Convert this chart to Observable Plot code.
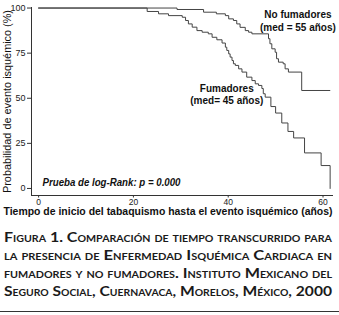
<!DOCTYPE html>
<html><head><meta charset="utf-8">
<script src="https://cdn.jsdelivr.net/npm/d3@7"></script>
<script src="https://cdn.jsdelivr.net/npm/@observablehq/plot@0.6"></script>
<style>
html,body{margin:0;padding:0;background:#fff;}
#chart svg{display:block;}
</style></head><body><div id="chart"></div>
<script>
// Kaplan-Meier steps (time in years, probability in %)
const smokerTime = [0, 22.9, 25.3, 27.4, 30.3, 31.0, 31.6, 32.4, 33.4, 34.5, 35.8, 36.6, 37.6, 38.7, 39.4, 39.7, 40.1, 40.4, 40.8, 41.1, 41.5, 42.2, 42.9, 43.9, 45.0, 45.7, 46.4, 47.1, 47.4, 47.8, 49.0, 50.0, 51.3, 52.6, 53.8, 56.1, 59.6, 61.5];
const smokerPct  = [100, 98.1, 96.8, 95.8, 94.9, 93.1, 91.2, 89.4, 87.5, 86.6, 85.7, 83.8, 82.4, 80.6, 78.3, 76.5, 74.6, 72.8, 70.9, 69.1, 68.2, 66.3, 64.5, 61.7, 59.8, 58.0, 57.1, 55.4, 52.5, 50.6, 45.4, 41.8, 36.3, 31.6, 28.0, 19.7, 12.7, 0];
const nonSmokerTime = [0, 29.2, 34.8, 37.5, 39.4, 40.1, 41.1, 41.8, 42.5, 43.6, 44.3, 45.0, 48.5, 48.8, 49.2, 49.9, 50.2, 50.6, 51.6, 52.0, 52.7, 55.5, 61.5];
const nonSmokerPct  = [100, 99.2, 97.7, 96.8, 95.8, 94.0, 93.1, 91.2, 89.3, 87.5, 86.6, 85.7, 83.0, 80.2, 77.4, 75.5, 71.9, 70.0, 69.1, 66.3, 64.5, 54.3, 54.3];
const groups = ["Fumadores", "No fumadores"];
const groupLabels = ["Fumadores\n(med= 45 años)", "No fumadores\n(med = 55 años)"];
const xTicks = [0, 20, 40, 60];
const yTicks = [0, 25, 50, 75, 100];
const yTitle = "Probabilidad de evento isquémico (%)";
const xTitle = "Tiempo de inicio del tabaquismo hasta el evento isquémico (años)";
const testNote = "Prueba de log-Rank: p = 0.000";
const captionLines = [
  "Figura 1. Comparación de tiempo transcurrido para",
  "la presencia de Enfermedad Isquémica Cardiaca en",
  "fumadores y no fumadores. Instituto Mexicano del",
  "Seguro Social, Cuernavaca, Morelos, México, 2000"
];

const rows = [
  ...smokerTime.map((t, i) => ({group: groups[0], t, p: smokerPct[i]})),
  ...nonSmokerTime.map((t, i) => ({group: groups[1], t, p: nonSmokerPct[i]}))
];

const plot = Plot.plot({
  width: 339, height: 222,
  marginLeft: 31, marginRight: 7, marginTop: 7, marginBottom: 27,
  style: {fontFamily: "'Liberation Sans', Arial, sans-serif", background: "#fff", color: "#222"},
  x: {domain: [-1.5, 62]},
  y: {domain: [-3.9, 100.3]},
  marks: [
    Plot.frame({anchor: "left", stroke: "#333"}),
    Plot.frame({anchor: "bottom", stroke: "#333"}),
    Plot.axisY({ticks: yTicks, tickSize: 4, tickPadding: 2, fontSize: 9, label: null, stroke: "#333"}),
    Plot.axisX({ticks: xTicks, tickSize: 2.5, tickPadding: 0.5, fontSize: 8.5, label: null, stroke: "#333"}),
    Plot.line(rows, {x: "t", y: "p", z: "group", curve: "step-after", stroke: "#444", strokeWidth: 1}),
    Plot.text([groupLabels[1]], {x: 54.7, y: 93.4, text: d => d, fontSize: 10, fontWeight: "bold", lineHeight: 1.3, fill: "#111"}),
    Plot.text([groupLabels[0]], {x: 39.7, y: 52.0, text: d => d, fontSize: 10, fontWeight: "bold", lineHeight: 1.2, fill: "#111"}),
    Plot.text([testNote], {frameAnchor: "bottom-left", dx: 11, dy: -10, text: d => d, textAnchor: "start", fontSize: 10, fontWeight: "bold", fontStyle: "italic", fill: "#111"}),
    Plot.text([yTitle], {frameAnchor: "left", dx: -24, rotate: -90, textAnchor: "middle", text: d => d, fontSize: 10.5, fill: "#111"}),
    Plot.text([xTitle], {frameAnchor: "bottom", dx: -14, dy: 19.5, text: d => d, fontSize: 10, fontWeight: "bold", fill: "#111"})
  ]
});

document.getElementById("chart").appendChild(plot);

// fit a few texts to the widths seen in the reference
const fit = {[yTitle]: 183, [xTitle]: 329, [testNote]: 138};
d3.select(plot).selectAll("text").each(function() {
  const w = fit[this.textContent];
  if (w) d3.select(this).attr("textLength", w).attr("lengthAdjust", "spacingAndGlyphs");
});

// caption below the chart
const cap = d3.create("svg").attr("width", 339).attr("height", 93).style("display", "block");
captionLines.forEach((s, i) => {
  cap.append("text")
    .attr("x", 4).attr("y", 19.5 + i * 18)
    .attr("textLength", 328).attr("lengthAdjust", "spacingAndGlyphs")
    .style("font-family", "Lato, 'Open Sans', sans-serif")
    .style("font-size", "13.5px").style("font-weight", "bold")
    .style("font-variant", "small-caps")
    .attr("fill", "#1a1a1a")
    .text(s);
});
cap.append("line").attr("x1", 0).attr("x2", 339).attr("y1", 89.5).attr("y2", 89.5)
  .attr("stroke", "#333").attr("stroke-width", 1.2);
document.getElementById("chart").appendChild(cap.node());
</script>
</body></html>
